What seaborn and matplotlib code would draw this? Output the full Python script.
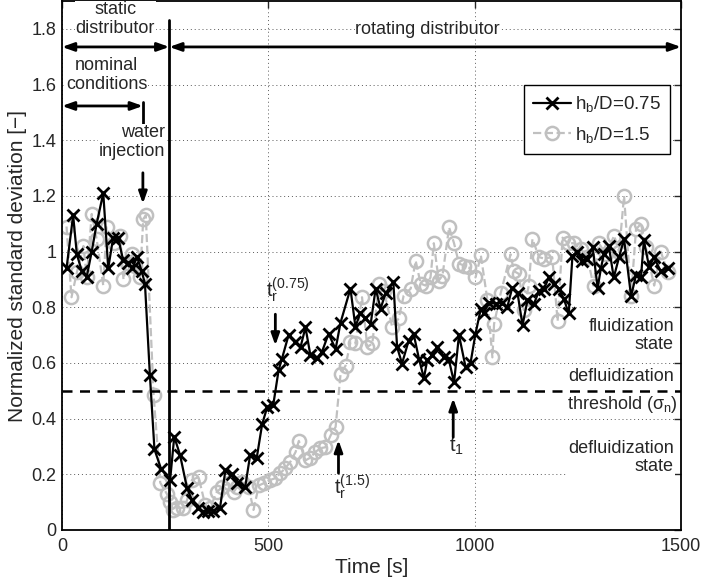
import matplotlib
matplotlib.use("Agg")
import matplotlib.pyplot as plt
import seaborn as sns
import numpy as np

# ---------------- data ----------------
t_a = [11, 27, 36, 48, 60, 72, 84, 100, 112, 124, 136, 148, 160, 170, 182, 193, 201,
       213, 224, 240, 262, 272, 286, 303, 315, 330, 342, 355, 367, 383, 396, 412, 424,
       444, 456, 472, 485, 497, 512, 525, 533, 549, 565, 578, 590, 602, 618, 630, 646,
       663, 675, 699, 711, 723, 735, 748, 760, 772, 784, 803, 812, 824, 840, 852, 865,
       877, 885, 897, 909, 925, 937, 950, 962, 978, 990, 1002, 1015, 1022, 1034, 1051,
       1067, 1079, 1091, 1104, 1116, 1128, 1144, 1156, 1168, 1180, 1192, 1204, 1216,
       1228, 1237, 1249, 1261, 1273, 1286, 1298, 1306, 1313, 1325, 1337, 1350, 1362,
       1379, 1391, 1403, 1410, 1423, 1434, 1451, 1468]
v_a = [0.94, 1.13, 0.99, 0.93, 0.91, 1.00, 1.10, 1.21, 0.94, 1.05, 1.05, 0.97, 0.96, 0.94,
       0.98, 0.93, 0.885, 0.556, 0.29, 0.22, 0.18, 0.335, 0.27, 0.15, 0.107, 0.08, 0.066,
       0.07, 0.07, 0.08, 0.215, 0.20, 0.17, 0.155, 0.27, 0.26, 0.38, 0.44, 0.45, 0.575,
       0.615, 0.70, 0.675, 0.657, 0.728, 0.627, 0.617, 0.64, 0.705, 0.65, 0.745, 0.867,
       0.73, 0.78, 0.76, 0.74, 0.867, 0.795, 0.85, 0.89, 0.657, 0.598, 0.68, 0.705, 0.615,
       0.545, 0.61, 0.627, 0.657, 0.62, 0.615, 0.53, 0.70, 0.585, 0.60, 0.705, 0.795,
       0.778, 0.817, 0.813, 0.817, 0.80, 0.87, 0.85, 0.735, 0.825, 0.813, 0.86, 0.867,
       0.907, 0.885, 0.867, 0.83, 0.778, 0.985, 1.00, 0.967, 0.975, 1.015, 0.87, 0.94,
       0.99, 1.02, 0.907, 0.98, 1.045, 0.84, 0.915, 0.907, 1.04, 0.943, 0.98, 0.93, 0.94]

t_b = [11, 23, 36, 52, 60, 72, 84, 100, 108, 125, 141, 149, 157, 169, 177, 189, 197, 203,
       222, 238, 254, 262, 270, 278, 294, 303, 315, 331, 347, 359, 375, 388, 404, 416, 424,
       436, 452, 464, 477, 489, 505, 517, 529, 541, 553, 566, 574, 590, 602, 614, 626, 638,
       651, 663, 675, 687, 699, 711, 727, 740, 752, 768, 780, 800, 816, 828, 845, 857, 869,
       881, 893, 901, 913, 922, 938, 950, 962, 974, 986, 1002, 1015, 1031, 1043, 1047,
       1063, 1087, 1095, 1107, 1119, 1131, 1140, 1156, 1168, 1188, 1201, 1213, 1225, 1241,
       1257, 1273, 1288, 1301, 1318, 1338, 1350, 1362, 1379, 1391, 1403, 1415, 1435, 1451,
       1468]
v_b = [1.09, 0.836, 0.925, 1.02, 0.907, 1.135, 1.045, 0.878, 1.087, 1.03, 1.057, 0.90, 0.96,
       0.99, 0.95, 0.907, 1.117, 1.13, 0.485, 0.17, 0.13, 0.10, 0.072, 0.08, 0.08, 0.107,
       0.18, 0.19, 0.09, 0.08, 0.136, 0.155, 0.168, 0.136, 0.155, 0.172, 0.155, 0.072, 0.16,
       0.168, 0.18, 0.186, 0.204, 0.222, 0.244, 0.28, 0.32, 0.25, 0.26, 0.28, 0.294, 0.297,
       0.34, 0.37, 0.56, 0.59, 0.674, 0.67, 0.836, 0.657, 0.67, 0.885, 0.86, 0.73, 0.76,
       0.842, 0.867, 0.967, 0.885, 0.878, 0.907, 1.03, 0.896, 0.914, 1.087, 1.03, 0.957,
       0.95, 0.943, 0.907, 0.986, 0.825, 0.62, 0.74, 0.85, 0.99, 0.93, 0.92, 0.79, 0.878,
       1.045, 0.98, 0.975, 0.98, 0.75, 1.05, 1.03, 1.03, 1.01, 0.98, 0.878, 1.03, 0.99,
       1.057, 1.0, 1.20, 0.84, 1.08, 1.10, 1.015, 0.878, 1.0, 0.925]

label_a = "h$_\\mathregular{b}$/D=0.75"
label_b = "h$_\\mathregular{b}$/D=1.5"
threshold = 0.5
t_switch = 260
t_inject = 196

# ---------------- style ----------------
sns.set_style("white")
plt.rcParams["font.family"] = ["Liberation Sans", "DejaVu Sans"]
plt.rcParams["mathtext.fontset"] = "custom"
plt.rcParams["mathtext.rm"] = "Liberation Sans"
plt.rcParams["mathtext.it"] = "Liberation Sans"
FS = 13      # annotations / ticks
FL = 15      # axis labels

fig = plt.figure(figsize=(7.02, 5.82), dpi=100)
ax = fig.add_axes([62 / 702, 52 / 582, 619 / 702, 529 / 582])

gray = "#c0c0c0"
sns.lineplot(x=t_b, y=v_b, ax=ax, estimator=None, sort=False, color=gray,
             linestyle="--", linewidth=1.6, marker="o", markersize=9.5,
             markerfacecolor="none", markeredgecolor=gray, markeredgewidth=1.8,
             label=label_b, zorder=2)
sns.lineplot(x=t_a, y=v_a, ax=ax, estimator=None, sort=False, color="black",
             linestyle="-", linewidth=1.6, marker="x", markersize=8,
             markeredgecolor="black", markeredgewidth=2.0, label=label_a, zorder=3)

ax.set_xlim(0, 1500)
ax.set_ylim(0, 1.9)
ax.set_xticks([0, 500, 1000, 1500])
ax.set_yticks(np.arange(0, 1.81, 0.2))
ax.set_yticklabels(["0", "0.2", "0.4", "0.6", "0.8", "1", "1.2", "1.4", "1.6", "1.8"])
ax.tick_params(direction="in", top=True, right=True, length=5, width=1,
               labelsize=FS, pad=4)
ax.tick_params(axis="x", pad=6)
ax.grid(True, linestyle=(0, (1, 3)), color="0.35", linewidth=0.7)
for s in ax.spines.values():
    s.set_linewidth(1.3)
    s.set_color("black")
ax.set_xlabel("Time [s]", fontsize=FL, labelpad=2)
ax.set_ylabel("Normalized standard deviation [\u2212]", fontsize=FL, labelpad=3)

# threshold and distributor switch
ax.axhline(threshold, color="black", linestyle=(0, (4, 3)), linewidth=1.8, zorder=4)
ax.plot([t_switch, t_switch], [0, 1.83], color="black", linewidth=2, zorder=4)

# legend (order as in reference)
h, l = ax.get_legend_handles_labels()
order = [l.index(label_a), l.index(label_b)]
leg = ax.legend([h[i] for i in order], [l[i] for i in order], loc="upper right",
                bbox_to_anchor=(0.982, 0.841), fontsize=13.5, frameon=True,
                fancybox=False, edgecolor="black", framealpha=1, handlelength=2.0,
                borderpad=0.5, labelspacing=0.55, handletextpad=0.2, borderaxespad=0)
leg.get_frame().set_linewidth(1.0)
leg.set_zorder(6)

white = dict(facecolor="white", edgecolor="none", pad=0.5)
arrow2 = dict(arrowstyle="<|-|>,head_length=0.7,head_width=0.25", color="black",
              lw=2, shrinkA=0, shrinkB=0)
arrow1 = dict(arrowstyle="-|>,head_length=0.7,head_width=0.25", color="black",
              lw=2, shrinkA=0, shrinkB=0)

# top annotations
ax.text(129, 1.835, "static\ndistributor", ha="center", va="center", fontsize=FS,
        bbox=white, zorder=5, linespacing=1.1)
ax.annotate("", xy=(0, 1.735), xytext=(t_switch, 1.735), arrowprops=arrow2, zorder=5)
ax.annotate("", xy=(t_switch, 1.735), xytext=(1500, 1.735), arrowprops=arrow2, zorder=5)
ax.text(886, 1.796, "rotating distributor", ha="center", va="center", fontsize=FS,
        bbox=white, zorder=5)
ax.text(108, 1.634, "nominal\nconditions", ha="center", va="center", fontsize=FS,
        bbox=white, zorder=5, linespacing=1.1)
ax.annotate("", xy=(0, 1.523), xytext=(t_inject, 1.523), arrowprops=arrow2, zorder=5)
ax.plot([t_inject, t_inject], [1.452, 1.537], color="black", linewidth=2, zorder=5)
ax.text(250, 1.394, "water\ninjection", ha="right", va="center", fontsize=FS,
        multialignment="right", bbox=white, zorder=5, linespacing=1.1)
ax.annotate("", xy=(t_inject, 1.172), xytext=(t_inject, 1.283), arrowprops=arrow1,
            zorder=5)

# event markers
ax.text(495, 0.86, "t$_\\mathregular{r}^\\mathregular{(0.75)}$", ha="left", va="center",
        fontsize=14.5, zorder=5)
ax.annotate("", xy=(517, 0.663), xytext=(517, 0.775), arrowprops=arrow1, zorder=5)
ax.text(660, 0.154, "t$_\\mathregular{r}^\\mathregular{(1.5)}$", ha="left", va="center",
        fontsize=14.5, zorder=5)
ax.annotate("", xy=(670, 0.323), xytext=(670, 0.204), arrowprops=arrow1, zorder=5)
ax.text(937, 0.30, "t$_\\mathregular{1}$", ha="left", va="center", fontsize=14.5, zorder=5)
ax.annotate("", xy=(948, 0.473), xytext=(948, 0.333), arrowprops=arrow1, zorder=5)

# state labels on the right
ax.text(1483, 0.699, "fluidization\nstate", ha="right", va="center", fontsize=FS,
        multialignment="right", bbox=white, zorder=5, linespacing=1.1)
ax.text(1483, 0.552, "defluidization", ha="right", va="center", fontsize=FS,
        bbox=white, zorder=5)
ax.text(1493, 0.452, "threshold (\u03c3$_\\mathregular{n}$)", ha="right", va="center",
        fontsize=FS, bbox=white, zorder=5)
ax.text(1483, 0.26, "defluidization\nstate", ha="right", va="center", fontsize=FS,
        multialignment="right", bbox=white, zorder=5, linespacing=1.1)

fig.savefig("out.png", dpi=100)
